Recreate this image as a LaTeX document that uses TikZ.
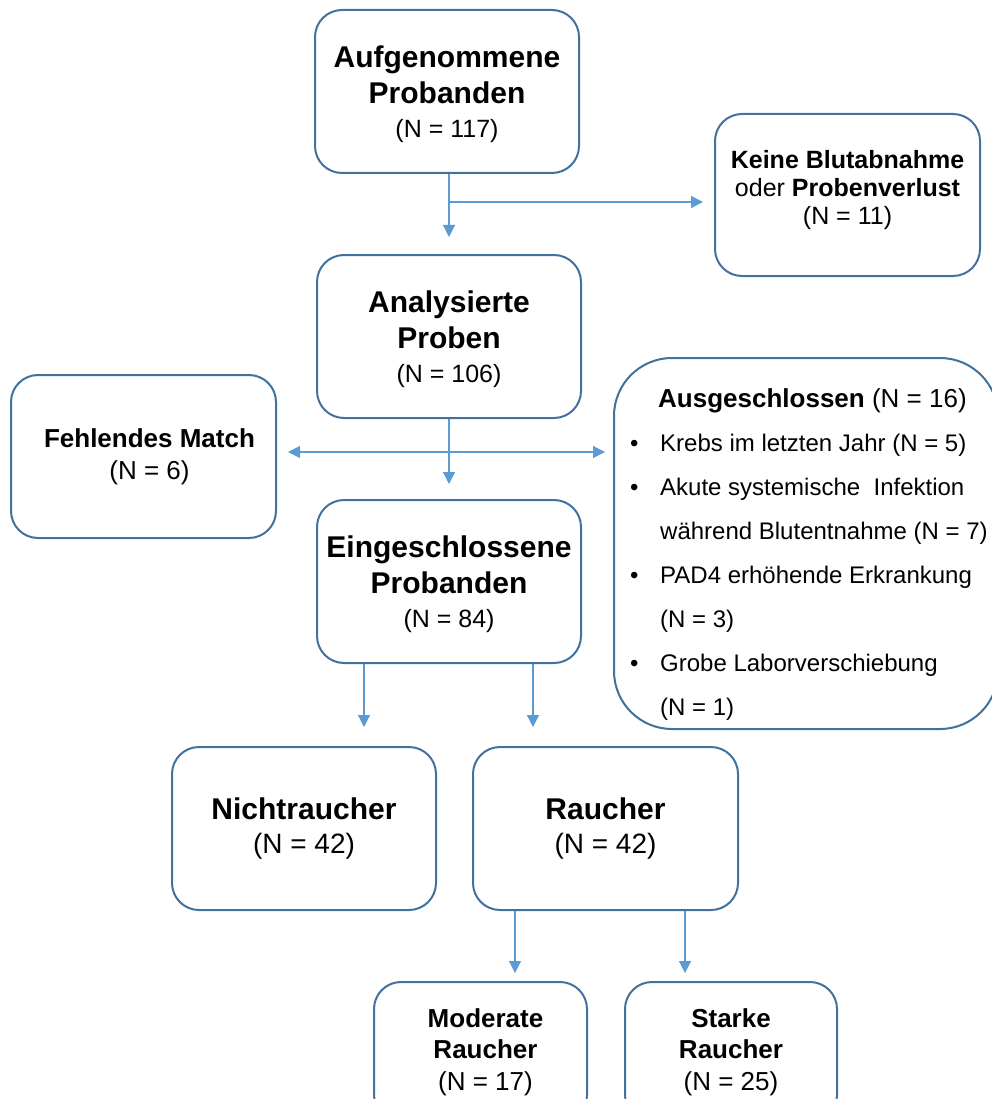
\documentclass[tikz,border=0pt]{standalone}
\usepackage{fontspec}
\setmainfont{Liberation Sans}
\usetikzlibrary{arrows.meta}
\definecolor{boxblue}{HTML}{41719C}
\definecolor{lineblue}{HTML}{5B9BD5}
\newcommand{\upstrut}{\rule{0pt}{28pt}}
\begin{document}
\begin{tikzpicture}[x=1pt,y=-1pt,
  box/.style={draw=boxblue, line width=2pt, rounded corners=27pt, align=center,
    inner sep=0pt, minimum width=264pt, minimum height=163pt, fill=white},
  bigbox/.style={font=\fontsize{30}{36}\selectfont},
  conn/.style={draw=lineblue, line width=1.2pt, -{Triangle[width=12pt,length=12pt]}},
  dconn/.style={draw=lineblue, line width=1.2pt, {Triangle[width=12pt,length=12pt]}-{Triangle[width=12pt,length=12pt]}}
]
\useasboundingbox (0,0) rectangle (992,1099);

% boxes
\node[box, bigbox] (a) at (447,91.5)
  {\upstrut\textbf{Aufgenommene}\\\textbf{Probanden}\\[-2pt]{\fontsize{25}{36}\selectfont (N = 117)}};
\node[box, minimum width=265pt, minimum height=162pt, font=\fontsize{25}{28}\selectfont] (k) at (847.5,195)
  {\textbf{Keine Blutabnahme}\\oder \textbf{Probenverlust}\\(N = 11)\rule[-15pt]{0pt}{0pt}};
\node[box, bigbox] (b) at (449,336.5)
  {\upstrut\textbf{Analysierte}\\\textbf{Proben}\\[-2pt]{\fontsize{25}{36}\selectfont (N = 106)}};
\node[box, minimum width=265pt, font=\fontsize{26}{32}\selectfont] (f) at (143.5,456.5)
  {\hspace*{12pt}\textbf{Fehlendes Match}\\\hspace*{12pt}(N = 6)};
\node[box, rounded corners=58pt, minimum width=384pt, minimum height=371pt] (ex) at (806,543.5) {};
\node[anchor=north west, inner sep=0pt, align=left, font=\fontsize{24}{44}\selectfont] (ext) at (630,388)
  {\hspace*{28pt}{\fontsize{26}{44}\selectfont\textbf{Ausgeschlossen} (N = 16)}\\
   \makebox[30pt][l]{•}Krebs im letzten Jahr (N = 5)\\
   \makebox[30pt][l]{•}Akute systemische\ \ Infektion\\
   \hspace*{30pt}während Blutentnahme (N = 7)\\
   \makebox[30pt][l]{•}PAD4 erhöhende Erkrankung\\
   \hspace*{30pt}(N = 3)\\
   \makebox[30pt][l]{•}Grobe Laborverschiebung\\
   \hspace*{30pt}(N = 1)};
\node[box, bigbox] (e) at (449,581.5)
  {\upstrut\textbf{Eingeschlossene}\\\textbf{Probanden}\\[-2pt]{\fontsize{25}{36}\selectfont (N = 84)}};
\node[box, bigbox] (n) at (304,828.5)
  {\textbf{Nichtraucher}\\[-2pt]{\fontsize{28}{36}\selectfont (N = 42)}};
\node[box, bigbox, minimum width=265pt] (r) at (605.5,828.5)
  {\textbf{Raucher}\\[-2pt]{\fontsize{28}{36}\selectfont (N = 42)}};
\node[box, minimum width=213pt, minimum height=140pt, font=\fontsize{26}{31.5}\selectfont] (m) at (480.5,1052)
  {\hspace*{10pt}\textbf{Moderate}\\\hspace*{10pt}\textbf{Raucher}\\\hspace*{10pt}(N = 17)};
\node[box, minimum width=212pt, minimum height=140pt, font=\fontsize{26}{31.5}\selectfont] (s) at (731,1052)
  {\textbf{Starke}\\\textbf{Raucher}\\(N = 25)};

% connectors
\coordinate (br1) at (449,202);
\coordinate (br2) at (449,452);
\draw[conn, shorten >=17pt] (b.north |- a.south) -- (b.north);
\draw[conn, shorten >=11pt] (br1) -- (br1 -| k.west);
\draw[conn, shorten >=15pt] (b.south) -- (e.north);
\draw[dconn, shorten <=11pt, shorten >=8pt] (br2 -| f.east) -- (br2 -| ex.west);
\draw[conn, shorten >=19pt] ([xshift=-85pt]e.south) -- ([xshift=-85pt]e.south |- n.north);
\draw[conn, shorten >=19pt] ([xshift=84pt]e.south) -- ([xshift=84pt]e.south |- r.north);
\draw[conn, shorten >=8pt] ([xshift=-90.5pt]r.south) -- ([xshift=-90.5pt]r.south |- m.north);
\draw[conn, shorten >=8pt] ([xshift=79.5pt]r.south) -- ([xshift=79.5pt]r.south |- s.north);
\end{tikzpicture}
\end{document}
